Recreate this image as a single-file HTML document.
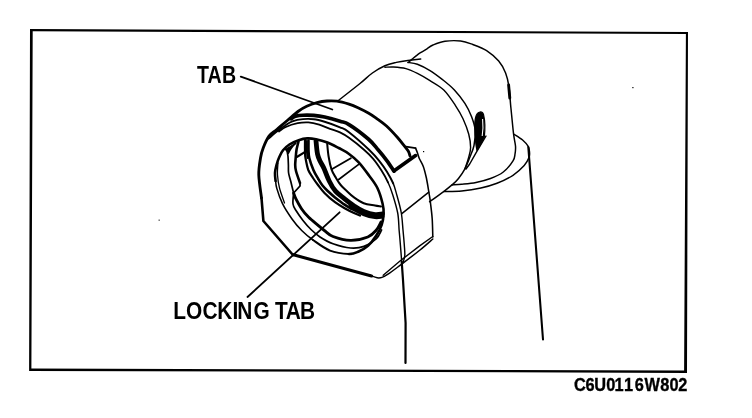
<!DOCTYPE html>
<html><head><meta charset="utf-8"><title>C6U0116W802</title>
<style>
html,body{margin:0;padding:0;background:#fff;}
body{width:752px;height:418px;overflow:hidden;}
svg{display:block;will-change:transform;}
text{font-family:"Liberation Sans",sans-serif;font-weight:bold;fill:#000;}
</style></head><body>
<svg width="752" height="418" viewBox="0 0 752 418">
<rect width="752" height="418" fill="#fff"/>
<path d="M30 29 L688 32 L687 372.9 L29.1 370.9 Z M32.7 31.2 L31.4 368.6 L684.1 370.6 L685.9 34 Z" fill="#000" fill-rule="evenodd"/>
<g fill="none" stroke="#000" stroke-linecap="round" stroke-linejoin="round">
<path d="M240.8 76.6 L332.3 109.5" stroke-width="1.82"/>
<path d="M247.5 297.0 L339.6 212.3" stroke-width="1.82"/>
<path d="M261.5 198.0 C261.1 194.2 259.0 181.7 258.8 175.0 C258.6 168.3 259.8 162.5 260.5 158.0 C261.2 153.5 261.8 151.6 263.2 148.0 C264.6 144.4 266.8 139.2 269.0 136.2 C271.2 133.2 273.4 132.4 276.5 129.8 C279.6 127.2 283.7 123.5 287.3 120.5 C290.9 117.5 294.8 113.9 298.0 111.5 C301.2 109.1 303.5 107.8 306.7 106.3 C309.9 104.8 313.6 103.5 317.0 102.6 C320.4 101.7 323.7 101.2 327.0 101.0 C330.3 100.8 333.3 100.7 337.0 101.2 C340.7 101.7 345.5 103.1 349.0 104.2 C352.5 105.3 354.8 106.3 358.0 107.8 C361.2 109.3 365.3 111.3 368.3 113.0 C371.3 114.7 372.8 115.7 375.8 117.9 C378.8 120.1 382.9 122.8 386.5 126.0 C390.1 129.2 394.3 133.9 397.3 137.3 C400.3 140.7 402.6 143.8 404.5 146.2 C406.4 148.6 407.6 149.9 408.5 151.5 C409.4 153.1 409.8 155.2 410.0 156.0" stroke-width="2.86"/>
<path d="M261.5 198.0 L263.4 221.0 L293.0 255.0" stroke-width="2.6"/>
<path d="M293.4 254.8 L371.5 276.0" stroke-width="3.12"/>
<path d="M370.0 275.3 C371.2 275.7 375.2 277.5 377.2 277.8 C379.2 278.1 380.2 278.0 382.0 277.4 C383.8 276.8 384.8 276.3 388.0 274.2 C391.2 272.1 395.7 268.6 401.0 264.6 C406.3 260.6 414.7 254.3 420.0 250.0 C425.3 245.7 430.7 240.8 432.8 239.0" stroke-width="1.49"/>
<path d="M432.8 236.5 L420.0 245.6 L400.0 261.0 L383.2 275.3" stroke-width="1.37"/>
<path d="M406.0 146.7 L415.6 148.2" stroke-width="1.82"/>
<path d="M394.2 170.8 L415.6 155.6" stroke-width="3.64"/>
<path d="M415.6 148.2 C415.9 149.0 416.9 151.2 417.5 153.0 C418.1 154.8 418.4 156.5 419.4 158.7 C420.4 160.9 422.1 163.2 423.3 166.4 C424.5 169.6 425.4 173.6 426.4 178.0 C427.3 182.4 428.4 189.1 429.0 193.0 C429.6 196.9 429.8 197.2 430.3 201.5 C430.8 205.8 431.8 212.8 432.2 218.7 C432.6 224.6 432.7 233.9 432.8 237.0" stroke-width="1.56"/>
<path d="M291.0 118.8 C291.8 118.4 293.5 116.9 295.5 116.3 C297.5 115.7 299.9 115.3 303.0 115.2 C306.1 115.1 310.2 115.1 313.8 115.4 C317.4 115.7 320.2 116.0 324.6 117.0 C329.0 118.0 335.9 120.0 340.0 121.3 C344.1 122.6 344.3 121.6 349.0 124.6 C353.7 127.5 363.4 134.8 368.3 139.0 C373.2 143.2 375.2 146.4 378.3 150.0 C381.4 153.6 384.4 157.3 387.0 160.8 C389.6 164.3 392.8 169.5 394.0 171.2" stroke-width="3.64"/>
<path d="M268.6 138.5 C269.9 137.4 273.8 133.9 276.5 131.8 C279.2 129.7 282.4 127.5 285.0 125.7 C287.6 124.0 289.3 122.4 292.3 121.3 C295.3 120.2 299.4 119.4 303.0 119.1 C306.6 118.8 310.2 118.8 313.8 119.2 C317.4 119.6 320.2 120.4 324.6 121.7 C329.0 123.0 335.9 125.5 340.0 127.3 C344.1 129.0 344.1 128.4 349.0 132.2 C353.9 136.0 364.3 145.2 369.3 150.0 C374.3 154.8 376.3 157.2 379.2 160.8 C382.1 164.4 384.5 167.7 386.8 171.5 C389.1 175.3 391.5 179.5 393.2 183.4" stroke-width="1.95"/>
<path d="M393.2 183.4 C394.9 187.3 395.4 190.1 396.8 195.0 C398.2 199.9 400.3 207.2 401.3 213.0 C402.3 218.8 402.5 224.7 403.0 230.0 C403.5 235.3 404.0 240.8 404.3 245.0 C404.6 249.2 405.0 252.6 404.8 255.5 C404.6 258.4 403.3 261.5 403.0 262.7" stroke-width="1.43"/>
<path d="M279.0 131.5 C280.1 130.8 282.7 128.4 285.8 127.0 C288.9 125.6 293.9 124.0 297.7 123.2 C301.5 122.4 304.8 122.2 308.4 122.4 C312.0 122.6 315.6 123.5 319.2 124.6 C322.8 125.7 326.5 127.6 330.0 128.9 C333.5 130.2 336.8 130.9 340.0 132.4 C343.2 133.9 344.9 134.9 349.0 137.8 C353.1 140.7 360.3 146.5 364.3 150.0 C368.3 153.5 370.1 155.2 373.0 158.6 C375.9 162.0 379.0 166.6 381.5 170.5 C384.0 174.4 386.1 178.2 388.0 182.3" stroke-width="1.82"/>
<path d="M388.0 182.3 C389.9 186.4 391.2 189.9 392.8 195.0 C394.4 200.1 396.6 207.2 397.7 213.0 C398.8 218.8 398.7 224.7 399.1 230.0 C399.6 235.3 400.0 239.8 400.4 245.0 C400.8 250.2 401.5 258.8 401.7 261.5" stroke-width="1.43"/>
<path d="M401.8 213.6 L428.8 192.2" stroke-width="1.49"/>
<path d="M275.6 181.0 C275.5 179.7 274.9 175.7 275.0 173.0 C275.1 170.3 275.8 167.7 276.5 165.0 C277.2 162.3 278.2 159.4 279.3 157.0 C280.4 154.6 281.3 152.4 283.0 150.3 C284.7 148.2 286.8 146.2 289.4 144.5 C292.0 142.8 295.7 141.2 298.7 140.2 C301.7 139.2 304.4 138.6 307.3 138.4 C310.2 138.2 312.6 138.6 316.0 139.3 C319.4 140.0 323.6 141.1 327.4 142.5 C331.2 143.9 335.1 146.1 338.7 148.0 C342.2 149.9 345.4 151.3 348.7 153.7 C352.0 156.1 355.3 158.7 358.7 162.3 C362.1 165.9 365.7 170.9 368.8 175.2 C371.9 179.5 375.1 183.2 377.4 188.0 C379.7 192.8 381.6 199.5 382.6 203.7 C383.6 207.9 383.8 209.5 383.6 213.0 C383.5 216.5 383.0 221.0 381.7 224.8 C380.4 228.6 378.3 232.5 376.0 236.0 C373.7 239.5 370.9 243.2 368.0 245.8 C365.1 248.4 361.9 250.1 358.7 251.5 C355.5 252.9 353.8 254.2 349.0 254.0" stroke-width="2.6"/>
<path d="M349.0 254.0 C344.2 253.8 336.0 252.9 330.0 250.6 C324.0 248.3 317.7 243.3 313.0 240.0" stroke-width="2.08"/>
<path d="M313.0 240.0 C308.3 236.7 305.2 234.0 301.7 230.5 C298.2 227.0 295.2 223.5 292.0 219.0 C288.8 214.5 285.0 208.8 282.5 203.7 C280.0 198.6 277.9 192.2 276.8 188.4 C275.7 184.6 275.8 182.2 275.6 181.0" stroke-width="1.56"/>
<path d="M278.0 163.0 C277.9 165.0 277.2 170.8 277.5 175.0 C277.8 179.2 278.3 183.3 279.5 188.0 C280.7 192.7 283.7 200.5 284.5 203.0" stroke-width="1.3"/>
<path d="M295.8 143.2 C294.9 143.9 291.9 146.2 290.5 147.5 C289.1 148.8 287.8 149.5 287.4 151.0 C287.0 152.5 287.8 154.2 288.0 156.5 C288.2 158.8 288.3 162.2 288.4 165.0 C288.5 167.8 288.2 170.2 288.6 173.0 C289.0 175.8 290.0 178.2 290.8 181.5 C291.6 184.8 293.1 191.1 293.6 193.0" stroke-width="1.69"/>
<path d="M298.5 141.5 C298.2 142.8 297.1 146.8 296.6 149.3 C296.2 151.8 296.0 153.9 295.8 156.5 C295.6 159.1 295.2 162.6 295.2 165.0 C295.2 167.4 295.2 168.0 296.0 171.0 C296.8 174.0 299.3 181.0 300.0 183.0" stroke-width="2.6"/>
<path d="M300.0 183.0 L300.0 186.0 L293.6 193.0" stroke-width="1.82"/>
<path d="M296.8 157.0 L306.0 151.3" stroke-width="2.08"/>
<path d="M308.5 140.5 C308.5 142.1 308.4 147.1 308.5 150.0 C308.6 152.9 308.5 154.7 309.3 158.0 C310.1 161.3 311.9 166.5 313.4 170.0 C314.9 173.5 316.8 176.4 318.3 179.0 C319.8 181.6 320.7 183.2 322.3 185.3 C323.9 187.4 325.9 189.3 328.0 191.3 C330.1 193.3 332.2 195.2 335.0 197.4 C337.8 199.6 341.8 202.7 344.6 204.6 C347.4 206.5 350.8 208.3 352.0 209.0" stroke-width="2.6"/>
<path d="M305.0 140.5 C305.0 142.1 304.9 147.1 305.0 150.0 C305.1 152.9 304.9 154.7 305.5 158.0 C306.1 161.3 307.1 166.7 308.3 170.0 C309.6 173.3 311.4 175.5 313.0 178.0 C314.6 180.5 316.1 182.5 318.0 185.0 C319.9 187.5 321.7 190.1 324.5 193.0 C327.3 195.9 331.6 199.7 335.0 202.2 C338.4 204.7 341.4 206.4 344.6 208.2 C347.8 210.0 351.4 211.8 354.0 213.0 C356.6 214.2 359.0 215.1 360.0 215.5" stroke-width="2.21"/>
<path d="M306.8 141.0 L306.9 150.0 L307.5 158.0" stroke-width="2.08"/>
<path d="M316.0 140.8 C316.2 143.0 316.8 150.6 317.5 154.0 C318.2 157.4 318.9 158.7 320.0 161.0 C321.1 163.3 322.3 164.7 323.8 168.0 C325.3 171.3 327.2 177.1 329.2 181.0 C331.1 184.9 332.9 188.2 335.5 191.2 C338.1 194.2 341.5 196.3 344.6 198.8 C347.7 201.3 350.9 203.9 354.1 206.0 C357.3 208.1 360.2 210.1 363.7 211.5 C367.2 212.9 371.9 214.2 375.0 214.6 C378.1 215.0 381.2 214.1 382.5 214.0" stroke-width="4.81"/>
<path d="M350.0 207.0 C352.3 208.2 359.5 212.3 363.7 214.0 C367.9 215.7 371.9 216.6 375.0 217.0 C378.1 217.4 381.2 216.6 382.5 216.5" stroke-width="4.16"/>
<path d="M327.2 143.6 C327.4 145.8 327.9 152.2 328.6 156.5 C329.3 160.8 330.3 165.8 331.5 169.4 C332.7 173.0 334.5 175.4 336.0 178.0 C337.5 180.6 338.9 182.9 340.7 185.0 C342.4 187.1 344.3 188.6 346.5 190.7 C348.7 192.8 351.1 195.3 354.0 197.4 C356.9 199.5 360.2 201.8 363.7 203.2 C367.2 204.6 372.1 205.0 375.0 205.6 C377.9 206.2 380.0 206.3 381.0 206.5" stroke-width="2.02"/>
<path d="M332.2 169.0 L350.8 158.2" stroke-width="1.82"/>
<path d="M338.7 179.5 L358.7 164.4" stroke-width="1.69"/>
<path d="M293.6 193.0 C294.0 193.9 294.5 196.1 295.8 198.7 C297.1 201.3 299.4 205.6 301.5 208.7 C303.6 211.8 305.8 214.5 308.7 217.3 C311.6 220.2 316.0 223.5 318.7 225.8 C321.4 228.1 322.6 229.2 325.0 231.0 C327.4 232.8 328.8 234.9 333.0 236.5 C337.2 238.1 344.7 240.3 350.5 240.4 C356.3 240.5 363.5 238.7 367.8 237.0 C372.1 235.3 374.2 232.5 376.4 230.0 C378.6 227.5 380.2 223.3 381.0 222.0" stroke-width="2.86"/>
<path d="M293.6 193.0 C293.5 194.8 292.6 201.1 293.0 204.0 C293.4 206.9 294.3 207.8 296.0 210.5 C297.7 213.2 300.5 217.3 303.0 220.5 C305.5 223.7 308.2 226.8 311.0 229.5 C313.8 232.2 316.3 234.6 320.0 237.0 C323.7 239.4 327.9 242.0 333.0 243.8 C338.1 245.6 345.3 247.6 350.5 248.0 C355.7 248.4 359.7 248.0 364.0 246.4 C368.3 244.8 373.5 241.3 376.4 238.6 C379.3 235.9 380.7 231.4 381.6 230.0" stroke-width="1.69"/>
<path d="M337.7 101.0 C341.4 98.1 354.2 88.2 360.0 83.5 C365.8 78.8 368.2 76.0 372.4 73.0 C376.5 70.0 380.9 67.6 384.9 65.8 C388.9 64.0 392.5 63.3 396.3 62.4 C400.1 61.5 403.7 61.0 407.8 60.5 C411.9 60.0 418.6 59.3 420.7 59.1" stroke-width="1.49"/>
<path d="M407.8 62.4 C409.4 62.7 413.7 62.9 417.4 64.3 C421.1 65.7 425.7 68.0 430.0 70.6 C434.3 73.2 438.9 76.8 443.0 80.0 C447.1 83.2 450.8 86.1 454.4 90.0 C458.0 93.9 462.0 98.9 464.9 103.4 C467.8 107.9 469.9 112.3 471.6 116.8 C473.3 121.3 474.8 125.4 475.2 130.2 C475.6 135.0 474.9 140.9 474.0 145.5 C473.1 150.1 471.0 154.1 469.5 158.0 C468.0 161.9 466.7 165.4 464.9 168.8 C463.1 172.2 460.6 175.8 458.5 178.5 C456.4 181.2 454.4 182.8 452.0 184.9 C449.6 187.0 447.7 188.5 444.0 191.3 C440.3 194.1 432.0 200.0 429.6 201.7" stroke-width="1.49"/>
<path d="M384.9 67.2 C386.3 67.2 390.0 66.8 393.5 67.0 C397.0 67.2 401.9 67.5 405.9 68.6 C409.9 69.7 413.4 71.4 417.4 73.4 C421.4 75.4 425.6 77.8 430.0 80.6 C434.4 83.4 439.6 85.9 443.8 90.0 C448.0 94.1 452.1 100.5 455.3 105.3 C458.5 110.1 460.8 113.9 463.0 118.7 C465.2 123.5 467.4 129.2 468.7 134.0 C470.0 138.8 470.6 143.4 470.6 147.4 C470.6 151.4 469.4 154.4 468.5 158.0 C467.6 161.6 465.5 167.0 464.9 168.8" stroke-width="1.43"/>
<path d="M408.8 62.0 C409.4 61.5 410.9 60.2 412.3 59.0 C413.7 57.8 415.9 55.9 417.4 54.8 C418.8 53.7 419.4 53.4 421.0 52.4 C422.6 51.4 425.0 50.0 427.0 48.8 C429.0 47.6 430.0 46.2 433.0 45.0 C436.0 43.8 440.4 42.0 445.0 41.3 C449.6 40.6 456.1 40.5 460.7 41.0 C465.3 41.5 468.5 42.9 472.8 44.5 C477.1 46.1 482.3 47.9 486.6 50.6 C490.9 53.4 495.5 57.3 498.7 61.0 C501.9 64.7 503.9 68.7 505.6 73.0 C507.3 77.3 508.2 81.6 509.0 86.9 C509.8 92.2 509.9 97.0 510.6 104.7 C511.4 112.5 512.7 126.5 513.5 133.4 C514.3 140.3 515.2 142.6 515.5 146.0 C515.8 149.4 515.4 151.5 515.0 154.0 C514.6 156.5 515.0 157.8 513.0 160.8 C511.1 163.8 507.1 169.1 503.3 172.0 C499.6 174.9 495.1 176.8 490.5 178.5 C485.9 180.2 480.8 181.5 476.0 182.5 C471.2 183.5 465.7 183.9 461.7 184.3 C457.7 184.7 453.6 184.8 452.0 184.9" stroke-width="1.49"/>
<path d="M508.6 85.0 L509.8 98.0" stroke-width="2.86"/>
<path d="M486.0 136.0 L476.0 152.8 L469.7 164.0 L466.0 169.0" stroke-width="1.43"/>
<path d="M513.7 134.0 C515.2 135.0 520.2 137.9 522.6 140.0 C525.0 142.1 527.1 144.4 528.2 146.4 C529.4 148.4 529.4 150.1 529.5 152.0 C529.6 153.9 529.9 155.3 529.0 157.6 C528.1 159.9 526.9 162.6 524.2 165.6 C521.5 168.6 517.5 172.4 513.0 175.3 C508.5 178.2 502.4 181.2 497.0 183.3 C491.6 185.4 486.8 186.7 480.9 188.0 C475.0 189.3 467.8 190.4 461.7 191.0 C455.6 191.6 446.9 191.4 444.0 191.5" stroke-width="1.49"/>
<path d="M528.3 147.0 L543.0 339.5" stroke-width="2.08"/>
<path d="M401.7 261.5 L403.0 280.0 L405.6 323.0 L405.5 363.0" stroke-width="2.21"/>
</g>
<path d="M284.5 149.2 L296.5 142.2 L291 150 L288.6 154.5 Z" fill="#000"/><path d="M480 112 C476.5 112.5 474.6 118 474.8 127 C475 138 475.9 146 477 150.5 L484.3 137.5 C485.1 130 484.9 120 483.6 114.8 C482.8 112.4 481.3 111.8 480 112Z" fill="#000" stroke="#000" stroke-width="1.2" stroke-linejoin="round"/><path d="M482.6 119 C483.2 125 483 131 482.2 136" fill="none" stroke="#fff" stroke-width="1.1"/><rect x="632.3" y="87" width="1.2" height="1.2" fill="#000"/><rect x="158.6" y="219.6" width="1.1" height="1.1" fill="#000"/><rect x="423" y="151" width="1.2" height="1.2" fill="#000"/>
<text transform="scale(0.8056,1)" x="244.6 257.5 275.6" y="82.7" font-size="24.3">TAB</text>
<text transform="scale(0.8594,1)" x="201.6 216.3 235.6 252.7 270.5 276.1 295.1 313.3 320.1 332.4 349.1" y="318.6" font-size="24.3">LOCKING TAB</text>
<text stroke="#000" stroke-width="0.35" transform="scale(0.8980,1)" x="639.2 651.9 661.7 675.2 684.4 694.8 706.9 717.6 735.3 745.6 755.3" y="390.8" font-size="18.2">C6U0116W802</text>
</svg>
</body></html>
